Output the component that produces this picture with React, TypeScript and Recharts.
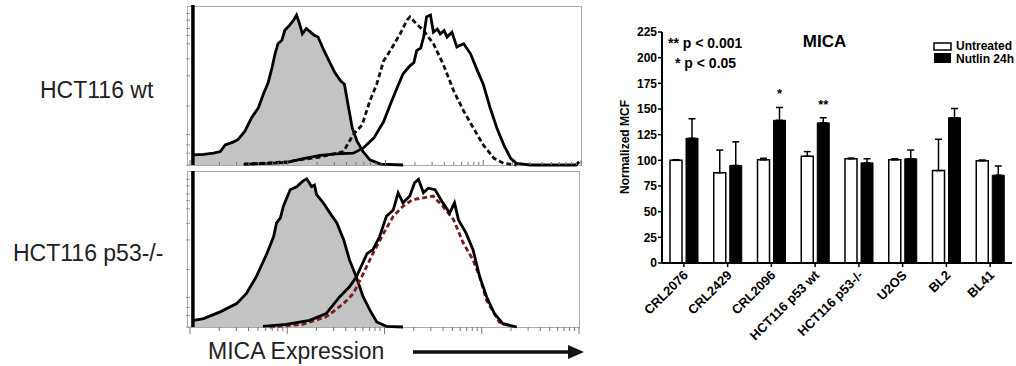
import React from 'react';
import {
  ComposedChart, Area, Line, XAxis, YAxis, ReferenceLine,
  BarChart, Bar, ErrorBar, LabelList,
} from 'recharts';

// ---------- flow histograms (x = log10 MICA intensity, y = % of max) ----------
// events piled up in the first channel (off-scale spike on the left edge)
const lowChannel = 0.03;

const wtIsotype = [
  { x: 0.035, y: 6.3 }, { x: 0.14, y: 6.7 }, { x: 0.24, y: 7.4 },
  { x: 0.31, y: 8.4 }, { x: 0.36, y: 12.6 }, { x: 0.44, y: 14.3 }, { x: 0.49, y: 15.8 }, { x: 0.56, y: 21 },
  { x: 0.63, y: 29.5 }, { x: 0.7, y: 35.8 }, { x: 0.75, y: 44.2 }, { x: 0.8, y: 51.6 }, { x: 0.84, y: 61 },
  { x: 0.87, y: 69.5 }, { x: 0.9, y: 75.8 }, { x: 0.94, y: 78 }, { x: 0.97, y: 84.2 }, { x: 1.02, y: 87.4 },
  { x: 1.06, y: 90.5 }, { x: 1.09, y: 93.7 }, { x: 1.12, y: 88.4 }, { x: 1.15, y: 82 }, { x: 1.19, y: 85.3 },
  { x: 1.23, y: 83.2 }, { x: 1.27, y: 81 }, { x: 1.31, y: 80 }, { x: 1.37, y: 71.6 }, { x: 1.43, y: 64.2 },
  { x: 1.48, y: 57.9 }, { x: 1.54, y: 52.6 }, { x: 1.58, y: 50.5 }, { x: 1.61, y: 40 }, { x: 1.66, y: 23.2 },
  { x: 1.71, y: 14.7 }, { x: 1.77, y: 8.4 }, { x: 1.84, y: 3.2 }, { x: 1.95, y: 0.6 }, { x: 2.18, y: 0 },
];
const wtNutlin = [
  { x: 0.55, y: 0.5 }, { x: 0.82, y: 1 }, { x: 0.99, y: 1.7 }, { x: 1.16, y: 4 }, { x: 1.33, y: 6 },
  { x: 1.5, y: 7 }, { x: 1.67, y: 7.4 }, { x: 1.77, y: 10.5 }, { x: 1.88, y: 16.8 }, { x: 1.98, y: 27 },
  { x: 2.05, y: 38 }, { x: 2.12, y: 48.4 }, { x: 2.18, y: 57 }, { x: 2.25, y: 62 }, { x: 2.29, y: 64 },
  { x: 2.32, y: 71.6 }, { x: 2.36, y: 73 }, { x: 2.39, y: 80 }, { x: 2.42, y: 92.6 }, { x: 2.46, y: 93.7 },
  { x: 2.49, y: 83 }, { x: 2.53, y: 85 }, { x: 2.56, y: 82 }, { x: 2.6, y: 84 }, { x: 2.63, y: 80 },
  { x: 2.68, y: 83 }, { x: 2.73, y: 73.7 }, { x: 2.77, y: 75 }, { x: 2.8, y: 75.8 }, { x: 2.87, y: 69.5 },
  { x: 2.94, y: 59 }, { x: 3.0, y: 50.5 }, { x: 3.07, y: 35.8 }, { x: 3.14, y: 23 }, { x: 3.21, y: 12.6 },
  { x: 3.28, y: 4.2 }, { x: 3.34, y: 1 }, { x: 3.48, y: 0 }, { x: 3.95, y: 0 }, { x: 3.98, y: 2 },
];
const wtUntreated = [
  { x: 0.55, y: 0.5 }, { x: 0.99, y: 2 }, { x: 1.33, y: 5 }, { x: 1.57, y: 8.4 }, { x: 1.67, y: 19 },
  { x: 1.76, y: 25 }, { x: 1.84, y: 40 }, { x: 1.91, y: 50.5 }, { x: 1.98, y: 65 }, { x: 2.05, y: 71.6 },
  { x: 2.15, y: 82 }, { x: 2.22, y: 90.5 }, { x: 2.25, y: 92.6 }, { x: 2.32, y: 88 }, { x: 2.39, y: 84 },
  { x: 2.49, y: 75.8 }, { x: 2.59, y: 63 }, { x: 2.7, y: 46 }, { x: 2.8, y: 33.7 }, { x: 2.9, y: 23 },
  { x: 3.0, y: 12.6 }, { x: 3.11, y: 4.2 }, { x: 3.21, y: 1 }, { x: 3.34, y: 0 },
];

const koIsotype = [
  { x: 0.035, y: 4.3 }, { x: 0.14, y: 5.4 }, { x: 0.31, y: 9.7 },
  { x: 0.48, y: 15 }, { x: 0.58, y: 21.5 }, { x: 0.68, y: 32 }, { x: 0.79, y: 47 }, { x: 0.86, y: 58 },
  { x: 0.89, y: 66.7 }, { x: 0.93, y: 70 }, { x: 0.96, y: 77.4 }, { x: 1.03, y: 88 }, { x: 1.1, y: 90 },
  { x: 1.16, y: 93.5 }, { x: 1.2, y: 95 }, { x: 1.25, y: 90 }, { x: 1.28, y: 91 }, { x: 1.3, y: 85 },
  { x: 1.37, y: 79.6 }, { x: 1.44, y: 73 }, { x: 1.51, y: 66.7 }, { x: 1.58, y: 56 }, { x: 1.64, y: 43 },
  { x: 1.71, y: 32 }, { x: 1.78, y: 19.4 }, { x: 1.85, y: 10.8 }, { x: 1.92, y: 3.2 }, { x: 2.02, y: 0.4 },
  { x: 2.19, y: 0 },
];
const koNutlin = [
  { x: 0.75, y: 0.4 }, { x: 0.99, y: 1.7 }, { x: 1.23, y: 4.3 }, { x: 1.4, y: 8.6 }, { x: 1.54, y: 19.4 },
  { x: 1.64, y: 25.8 }, { x: 1.71, y: 32 }, { x: 1.82, y: 47 }, { x: 1.88, y: 49.5 }, { x: 1.95, y: 58 },
  { x: 2.02, y: 71 }, { x: 2.09, y: 75 }, { x: 2.14, y: 86 }, { x: 2.19, y: 79.6 }, { x: 2.26, y: 84 },
  { x: 2.31, y: 92.5 }, { x: 2.35, y: 94.6 }, { x: 2.4, y: 86 }, { x: 2.45, y: 89 }, { x: 2.52, y: 88 },
  { x: 2.59, y: 80.6 }, { x: 2.67, y: 73 }, { x: 2.72, y: 79.6 }, { x: 2.76, y: 68.8 }, { x: 2.84, y: 60 },
  { x: 2.91, y: 49.5 }, { x: 2.98, y: 32 }, { x: 3.05, y: 19.4 }, { x: 3.13, y: 8.6 }, { x: 3.22, y: 2 },
  { x: 3.36, y: 0 },
];
const koUntreated = [
  { x: 0.82, y: 0 }, { x: 1.16, y: 1.7 }, { x: 1.4, y: 6.5 }, { x: 1.58, y: 15 }, { x: 1.68, y: 21.5 },
  { x: 1.78, y: 34 }, { x: 1.88, y: 47 }, { x: 1.99, y: 60 }, { x: 2.09, y: 71 }, { x: 2.19, y: 77.4 },
  { x: 2.29, y: 81.7 }, { x: 2.4, y: 82.8 }, { x: 2.5, y: 83.9 }, { x: 2.6, y: 77.4 }, { x: 2.71, y: 68.8 },
  { x: 2.81, y: 53.8 }, { x: 2.91, y: 43 }, { x: 2.98, y: 32 }, { x: 3.05, y: 17 }, { x: 3.18, y: 3.2 },
  { x: 3.32, y: 0.4 },
];

const histYTicks = [0, 7.4, 12.6, 19, 36.8, 55.8, 66.3, 75.8, 81, 85.3, 90.5, 94.7];

// ---------- MICA bar chart ----------
const cellLines = ['CRL2076', 'CRL2429', 'CRL2096', 'HCT116 p53 wt', 'HCT116 p53-/-', 'U2OS', 'BL2', 'BL41'];
const untreated = [100, 88, 100.5, 104, 101.5, 100.5, 90, 99.5];
const untreatedErr = [0.6, 22, 1.5, 4.5, 0.7, 1, 30.5, 0.8];
const nutlin = [121.5, 95, 139, 136.5, 97.5, 101.5, 141.5, 85.5];
const nutlinErr = [19, 23, 12.5, 5, 4, 8.5, 9, 9];
const significance = ['', '', '*', '**', '', '', '', ''];
const yTicks = [0, 25, 50, 75, 100, 125, 150, 175, 200, 225];

const barData = cellLines.map((name, i) => ({
  name,
  untreated: untreated[i],
  untreatedErr: [0, untreatedErr[i]],
  nutlin: nutlin[i],
  nutlinErr: [0, nutlinErr[i]],
  sig: significance[i],
}));

const FONT = '"Liberation Sans", Arial, Helvetica, sans-serif';
const PX_PER_UNIT = (263 - 32) / 225;

const logTicks: number[] = [];
for (let k = 0; k < 4; k++) {
  for (let m = 1; m < 10; m++) logTicks.push(k + Math.log10(m));
}
logTicks.push(4);

const isMajor = (v: number) => Math.abs(v - Math.round(v)) < 1e-6;

const UpTick = ({ x, y, payload }: any) => (
  <line x1={x} x2={x} y1={y} y2={y - (isMajor(payload.value) ? 5 : 3)} stroke="#777" strokeWidth={1} />
);
const DownTick = ({ x, y, payload }: any) => (
  <line x1={x} x2={x} y1={y} y2={y + (isMajor(payload.value) ? 7 : 4)} stroke="#777" strokeWidth={1} />
);
const LeftTick = ({ x, y }: any) => (
  <line x1={x - 4} x2={x} y1={y} y2={y} stroke="#999" strokeWidth={1} />
);

const Histogram = ({ iso, treated, control, height, xTick, axisH, right, dashColor }: any) => (
  <ComposedChart width={400} height={height} margin={{ top: 5, right, left: 0, bottom: 0 }}>
    <XAxis
      type="number" dataKey="x" domain={[0, 4]} ticks={logTicks} interval={0}
      tickLine={false} axisLine={false} tickSize={0} tickMargin={0} height={axisH} tick={xTick}
      allowDataOverflow
    />
    <YAxis
      type="number" domain={[0, 100]} ticks={histYTicks} interval={0}
      tickLine={false} axisLine={false} tickSize={0} tickMargin={0} width={5} tick={<LeftTick />}
    />
    <Area data={iso} dataKey="y" type="linear" fill="#c3c3c3" fillOpacity={1} stroke="#000" strokeWidth={2.8} isAnimationActive={false} />
    <ReferenceLine x={lowChannel} stroke="#000" strokeWidth={3.5} />
    <Line data={control} dataKey="y" type="linear" stroke={dashColor} strokeWidth={2.8} strokeDasharray="5 3" dot={false} isAnimationActive={false} />
    <Line data={treated} dataKey="y" type="linear" stroke="#000" strokeWidth={2.8} dot={false} isAnimationActive={false} />
  </ComposedChart>
);

const CellTick = ({ x, y, payload }: any) => (
  <text
    x={x + 5} y={y + 9} transform={`rotate(-45, ${x + 5}, ${y + 9})`}
    textAnchor="end" fontSize={13} fontWeight="bold" fill="#000" fontFamily={FONT}
  >
    {payload.value}
  </text>
);

const SigLabel = ({ x, y, width, index }: any) => {
  const s = significance[index];
  if (!s) return null;
  return (
    <text
      x={x + width / 2} y={y - nutlinErr[index] * PX_PER_UNIT - 9}
      textAnchor="middle" fontSize={13} fontWeight="bold" fill="#000" fontFamily={FONT}
    >
      {s}
    </text>
  );
};

const App = () => {
  return (
    <div style={{ position: 'absolute', left: 0, top: 0, width: 1016, height: 366, background: '#fff', overflow: 'hidden', fontFamily: FONT }}>
      {/* flow cytometry panels */}
      <div style={{ position: 'absolute', left: 187, top: 6, width: 393, height: 158, borderStyle: 'solid', borderColor: '#aaa', borderWidth: '1px 1px 1px 1px' }} />
      <div style={{ position: 'absolute', left: 187, top: 171, width: 391, height: 155, borderStyle: 'solid', borderColor: '#aaa', borderWidth: '1px 1px 1px 1px' }} />
      <div style={{ position: 'absolute', left: 185, top: 0 }}>
        <Histogram iso={wtIsotype} treated={wtNutlin} control={wtUntreated} height={170} axisH={5} right={4} xTick={<UpTick />} dashColor="#111" />
      </div>
      <div style={{ position: 'absolute', left: 185, top: 166 }}>
        <Histogram iso={koIsotype} treated={koNutlin} control={koUntreated} height={172} axisH={11} right={6} xTick={<DownTick />} dashColor="#7a1c1c" />
      </div>

      {/* MICA bar chart */}
      <div style={{ position: 'absolute', left: 600, top: 0 }}>
        <BarChart width={416} height={366} data={barData} margin={{ top: 32, right: 4, left: 0, bottom: 0 }} barSize={12} barGap={4}>
          <XAxis
            dataKey="name" interval={0} height={103} tickSize={4} tickMargin={0}
            axisLine={{ stroke: '#000', strokeWidth: 2 }} tickLine={{ stroke: '#000', strokeWidth: 1.5 }}
            tick={<CellTick />}
          />
          <YAxis
            domain={[0, 225]} ticks={yTicks} interval={0} width={62} tickSize={4} tickMargin={1}
            axisLine={{ stroke: '#000', strokeWidth: 2 }} tickLine={{ stroke: '#000', strokeWidth: 1.5 }}
            tick={{ fontSize: 12, fontWeight: 'bold', fill: '#000', fontFamily: FONT }}
          />
          <Bar dataKey="untreated" fill="#fff" stroke="#000" strokeWidth={1.5} isAnimationActive={false}>
            <ErrorBar dataKey="untreatedErr" direction="y" width={3.5} stroke="#000" strokeWidth={1.5} />
          </Bar>
          <Bar dataKey="nutlin" fill="#000" stroke="#000" strokeWidth={1} isAnimationActive={false}>
            <ErrorBar dataKey="nutlinErr" direction="y" width={3.5} stroke="#000" strokeWidth={1.5} />
            <LabelList dataKey="sig" content={<SigLabel />} />
          </Bar>
        </BarChart>
      </div>

      {/* titles, labels and legend */}
      <svg width={1016} height={366} style={{ position: 'absolute', left: 0, top: 0, pointerEvents: 'none' }}>
        <g fontFamily={FONT} fill="#222">
          <text x={40} y={98} fontSize={23}>HCT116 wt</text>
          <text x={13} y={261} fontSize={23}>HCT116 p53-/-</text>
          <text x={208} y={359} fontSize={23}>MICA Expression</text>
        </g>
        <line x1={413} y1={352} x2={570} y2={352} stroke="#111" strokeWidth={3.5} />
        <polygon points="568,345 584,352 568,359" fill="#111" />

        <g fontFamily={FONT} fontWeight="bold" fill="#000">
          <text x={824.5} y={47} fontSize={17} textAnchor="middle">MICA</text>
          <text x={668} y={48} fontSize={14}>** p &lt; 0.001</text>
          <text x={675} y={68} fontSize={14}>* p &lt; 0.05</text>
          <text x={625} y={147} fontSize={12} textAnchor="middle" transform="rotate(-90, 625, 147)" dy={4}>Normalized MCF</text>
          <rect x={934} y={43} width={17} height={7} fill="#fff" stroke="#000" strokeWidth={1.5} />
          <rect x={934} y={53} width={17} height={10} fill="#000" />
          <text x={956} y={50} fontSize={12}>Untreated</text>
          <text x={956} y={63} fontSize={12}>Nutlin 24h</text>
        </g>
      </svg>
    </div>
  );
};

export default App;
